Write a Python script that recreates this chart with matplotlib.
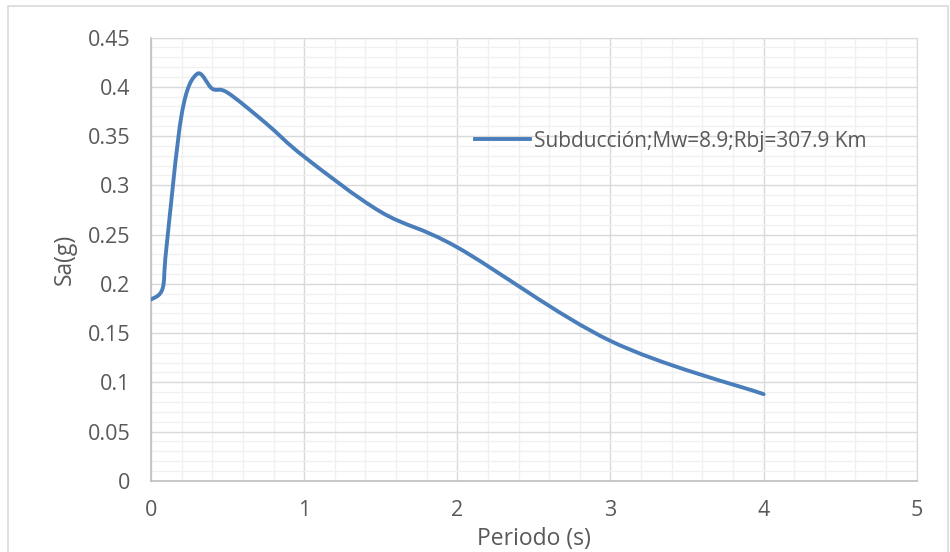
import matplotlib
matplotlib.use("Agg")
from matplotlib import pyplot as plt
from matplotlib.path import Path
from matplotlib.patches import PathPatch, Rectangle
from matplotlib.lines import Line2D
from matplotlib.ticker import MultipleLocator, FuncFormatter

# espectro de respuesta (periodo en s, aceleracion espectral en g)
periodo = [0.0, 0.075, 0.1, 0.2, 0.3, 0.4, 0.5, 0.75, 1.0, 1.5, 2.0, 3.0, 4.0]
sa = [0.184, 0.195, 0.236, 0.372, 0.413, 0.398, 0.394, 0.363, 0.329, 0.273, 0.237, 0.142, 0.088]
etiqueta = 'Subducción;Mw=8.9;Rbj=307.9 Km'

azul = '#4a7ebb'
gris_txt = '#595959'


def curva_suave(xs, ys):
    # linea suavizada tipo Excel: bezier cubica que pasa por cada punto
    n = len(xs)
    verts = [(xs[0], ys[0])]
    codes = [Path.MOVETO]
    for i in range(n - 1):
        x0, y0 = xs[max(i - 1, 0)], ys[max(i - 1, 0)]
        x1, y1 = xs[i], ys[i]
        x2, y2 = xs[i + 1], ys[i + 1]
        x3, y3 = xs[min(i + 2, n - 1)], ys[min(i + 2, n - 1)]
        c1 = (x1 + (x2 - x0) / 6.0, y1 + (y2 - y0) / 6.0)
        c2 = (x2 - (x3 - x1) / 6.0, y2 - (y3 - y1) / 6.0)
        verts += [c1, c2, (x2, y2)]
        codes += [Path.CURVE4] * 3
    return Path(verts, codes)


plt.rcParams['font.family'] = ['Open Sans', 'DejaVu Sans']

fig = plt.figure(figsize=(9.5, 5.52), dpi=100)
ax = fig.add_axes([0.159, 0.129, 0.806, 0.803])

ax.set_xlim(0, 5)
ax.set_ylim(0, 0.45)
ax.xaxis.set_major_locator(MultipleLocator(1))
ax.xaxis.set_minor_locator(MultipleLocator(0.2))
ax.yaxis.set_major_locator(MultipleLocator(0.05))
ax.yaxis.set_minor_locator(MultipleLocator(0.01))
ax.yaxis.set_major_formatter(FuncFormatter(lambda v, p: ('%.2f' % v).rstrip('0').rstrip('.') if v else '0'))

ax.grid(True, which='minor', color='#f0f0f0', lw=1.0, zorder=0)
ax.grid(True, which='major', color='#d9d9d9', lw=1.0, zorder=0)
ax.set_axisbelow(True)
ax.tick_params(which='both', length=0, labelsize=15.5, labelcolor=gris_txt)
ax.tick_params(axis='y', pad=15)
ax.tick_params(axis='x', pad=14)

for s in ['top', 'right']:
    ax.spines[s].set_color('#d9d9d9')
for s in ['left', 'bottom']:
    ax.spines[s].set_color('#bfbfbf')
    ax.spines[s].set_linewidth(1.2)

ax.add_patch(PathPatch(curva_suave(periodo, sa), fc='none', ec=azul, lw=2.8,
                       capstyle='round', joinstyle='round', zorder=3))

ax.set_xlabel('Periodo (s)', fontsize=16.5, color=gris_txt, labelpad=4)
ax.set_ylabel('Sa(g)', fontsize=16.5, color=gris_txt, labelpad=8)

h = Line2D([], [], color=azul, lw=2.8)
ax.legend([h], [etiqueta], loc='center left', bbox_to_anchor=(0.41, 0.766),
          frameon=False, fontsize=15, handlelength=2.6, handletextpad=0.22,
          borderpad=0, labelcolor=gris_txt)

# borde del area del grafico
fig.patches.append(Rectangle((8 / 950, -0.01), 940 / 950, 1 - 6 / 552 + 0.01,
                             transform=fig.transFigure, fill=False,
                             ec='#d9d9d9', lw=1.2))

fig.savefig('out.png', dpi=100)
